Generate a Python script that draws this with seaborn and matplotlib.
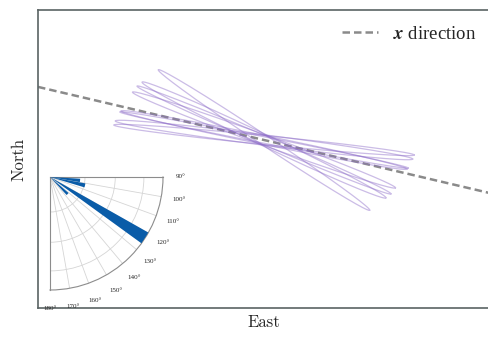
import numpy as np
import pandas as pd
import matplotlib
matplotlib.use("Agg")
import matplotlib.pyplot as plt
from matplotlib.font_manager import FontProperties
import seaborn as sns

# polarisation ellipses: tilt (deg from east), semi axes in plot units
ell_angle = [-33.6, -25.4, -23.0, -20.0, -11.0, -11.5, -7.3, -5.7]
ell_major = [1.27, 1.35, 1.38, 1.40, 1.47, 1.46, 1.50, 1.51]
ell_minor = [0.050, 0.058, 0.045, 0.052, 0.032, 0.045, 0.052, 0.045]

# "x direction" reference line through the origin
x_dir_slope = -0.235

# rose histogram in the inset (bearing in degrees, counts)
rose_theta = [96.5, 103.5, 122.7, 134.0]
rose_count = [9.5, 11.3, 35.5, 7.7]
rose_width = 6.5
theta_ticks = [90, 100, 110, 120, 130, 140, 150, 160, 170, 180]

sns.set_theme(style="white")
plt.rcParams["font.family"] = ["cmr10", "DejaVu Serif"]
plt.rcParams["mathtext.fontset"] = "cm"
plt.rcParams["axes.unicode_minus"] = False

# build the ellipse outlines from their parameters
t = np.linspace(0, 2 * np.pi, 500)
frames = []
for i, (ang, a, b) in enumerate(zip(ell_angle, ell_major, ell_minor)):
    phi = np.deg2rad(ang)
    ex = a * np.cos(t) * np.cos(phi) - b * np.sin(t) * np.sin(phi)
    ny = a * np.cos(t) * np.sin(phi) + b * np.sin(t) * np.cos(phi)
    frames.append(pd.DataFrame({"east": ex, "north": ny, "ellipse": i}))
df = pd.concat(frames, ignore_index=True)

W, H = 489, 337
fig = plt.figure(figsize=(W / 100, H / 100), dpi=100)
fig.patch.set_facecolor("white")
ax = fig.add_axes([38 / W, 1 - 308 / H, 451.5 / W, 298 / H])

sns.lineplot(data=df, x="east", y="north", units="ellipse", estimator=None,
             sort=False, color="#8c6bc8", alpha=0.45, lw=0.9, legend=False, ax=ax)
ax.axline((0, 0), slope=x_dir_slope, color="#8a8a8a", lw=1.8, dashes=(3, 1.6),
          label=r"$\mathbfit{x}$ direction", zorder=1)

ax.set_xlim(-2.26, 2.255)
ax.set_ylim(-1.68, 1.30)
ax.set_xticks([])
ax.set_yticks([])
ax.set_xlabel("East", fontsize=12, labelpad=5)
ax.set_ylabel("North", fontsize=12, labelpad=8)
for name, s in ax.spines.items():
    s.set_color("#5a6464")
    s.set_linewidth(1.2)
ax.spines["right"].set_visible(False)

ax.legend(loc="center left", bbox_to_anchor=(342 / W, 1 - 34 / H),
          bbox_transform=fig.transFigure, frameon=False, borderpad=0,
          borderaxespad=0, handlelength=1.9, handletextpad=0.8,
          prop=FontProperties(family=["Liberation Serif"], size=13.5,
                              math_fontfamily="stix"))

# inset rose diagram
pax = fig.add_axes([50 / W, 1 - 290 / H, 113 / W, 113 / H], projection="polar")
pax.set_theta_zero_location("N")
pax.set_theta_direction(-1)
pax.set_thetamin(90)
pax.set_thetamax(180)
pax.set_rlim(0, 35.5)
pax.bar(np.deg2rad(rose_theta), rose_count, width=np.deg2rad(rose_width),
        color="#0a5ca8", edgecolor="none", zorder=3)
pax.set_thetagrids(theta_ticks, labels=[f"{v}°" for v in theta_ticks],
                   family=["Liberation Serif"])
pax.set_rticks([11, 20.5, 29.5])
pax.set_yticklabels([])
pax.grid(True, color="#d5d5d5", lw=0.6)
pax.tick_params(axis="x", labelsize=5, pad=0)
for s in pax.spines.values():
    s.set_color("#8c8c8c")
    s.set_linewidth(0.8)

fig.savefig("out.png", dpi=100)
